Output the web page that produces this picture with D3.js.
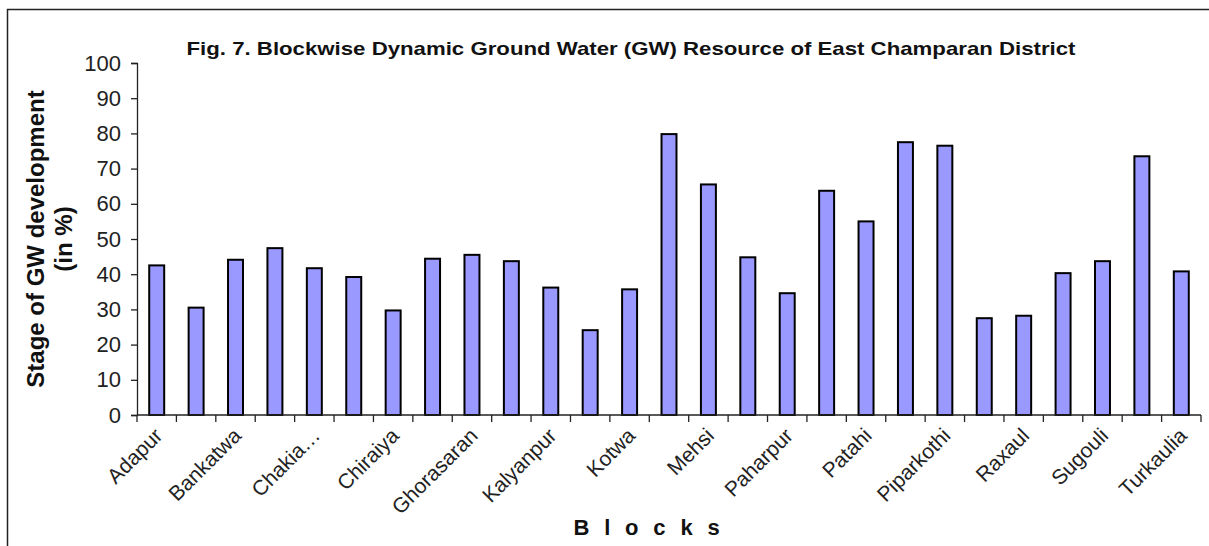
<!DOCTYPE html>
<html>
<head>
<meta charset="utf-8">
<script src="https://cdn.jsdelivr.net/npm/d3@7"></script>
<style>
  body { margin: 0; background: #fff; }
  svg { display: block; font-family: Arial, "Liberation Sans", sans-serif; }
</style>
</head>
<body>
<svg id="chart" width="1209" height="546"></svg>
<script>
// blocks of East Champaran (every other one gets a label, like the original)
const blocks = ['Adapur', 'Areraj', 'Bankatwa', 'Banjariya', 'Chakia…', 'Chhauradano', 'Chiraiya',
  'Dhaka', 'Ghorasaran', 'Harsidhi', 'Kalyanpur', 'Kesariya', 'Kotwa', 'Madhuban', 'Mehsi',
  'Motihari', 'Paharpur', 'Pakridayal', 'Patahi', 'Phenhara', 'Piparkothi', 'Ramgarhwa',
  'Raxaul', 'Sangrampur', 'Sugouli', 'Tetaria', 'Turkaulia'];
const stage = [42.5, 30.5, 44.1, 47.4, 41.7, 39.2, 29.7, 44.4, 45.5, 43.7, 36.2, 24.1, 35.7, 79.8,
  65.5, 44.8, 34.6, 63.7, 55.0, 77.5, 76.5, 27.5, 28.2, 40.3, 43.7, 73.5, 40.8];
const yTicks = [0, 10, 20, 30, 40, 50, 60, 70, 80, 90, 100];

const svg = d3.select('#chart');
const mLeft = 137, mRight = 1201, mTop = 63, mBottom = 415;

// frame around the figure (right/bottom edges fall outside the window)
svg.append('rect')
  .attr('x', 7.5).attr('y', 9.5)
  .attr('width', 1220).attr('height', 560)
  .attr('fill', 'none').attr('stroke', '#222').attr('stroke-width', 1.5);

svg.append('text')
  .attr('x', 631).attr('y', 55)
  .attr('text-anchor', 'middle')
  .attr('font-size', '18.5px').attr('font-weight', 'bold').attr('fill', '#111')
  .attr('textLength', 889).attr('lengthAdjust', 'spacingAndGlyphs')
  .text('Fig. 7. Blockwise  Dynamic  Ground Water (GW) Resource of East Champaran District');

const x = d3.scaleBand().domain(blocks).range([mLeft, mRight])
  .paddingInner(0.62).paddingOuter(0.31);
const y = d3.scaleLinear().domain([0, 100]).range([mBottom, mTop]);

svg.selectAll('.bar')
  .data(blocks)
  .enter().append('rect')
  .attr('class', 'bar')
  .attr('x', d => x(d))
  .attr('y', (d, i) => y(stage[i]))
  .attr('width', x.bandwidth())
  .attr('height', (d, i) => y(0) - y(stage[i]))
  .attr('fill', '#9999ff')
  .attr('stroke', '#000')
  .attr('stroke-width', 2);

// y axis
const yAxis = svg.append('g')
  .attr('transform', `translate(${mLeft},0)`)
  .call(d3.axisLeft(y).tickValues(yTicks).tickSize(6).tickPadding(10));
yAxis.select('.domain').attr('stroke', '#222').attr('stroke-width', 1.3);
yAxis.selectAll('.tick line').attr('stroke', '#222').attr('stroke-width', 1.3);
yAxis.selectAll('.tick text').attr('font-size', '22px').attr('fill', '#222')
  .attr('font-family', 'Arial, "Liberation Sans", sans-serif');

// x axis: tick marks at the category boundaries
const step = x.step();
const bounds = d3.range(blocks.length + 1).map(i => mLeft + i * step);
svg.append('line')
  .attr('x1', mLeft).attr('x2', mRight)
  .attr('y1', mBottom).attr('y2', mBottom)
  .attr('stroke', '#222').attr('stroke-width', 1.3);
svg.selectAll('.xtick')
  .data(bounds)
  .enter().append('line')
  .attr('x1', d => d).attr('x2', d => d)
  .attr('y1', mBottom).attr('y2', mBottom + 7)
  .attr('stroke', '#222').attr('stroke-width', 1.3);

svg.selectAll('.xlabel')
  .data(blocks.filter((d, i) => i % 2 === 0))
  .enter().append('text')
  .attr('class', 'xlabel')
  .attr('transform', d => `translate(${x(d) + x.bandwidth() / 2 + 7},${mBottom + 22}) rotate(-45)`)
  .attr('text-anchor', 'end')
  .attr('font-size', '21px').attr('fill', '#222')
  .text(d => d);

svg.append('text')
  .attr('x', 654).attr('y', 535)
  .attr('text-anchor', 'middle')
  .attr('font-size', '22px').attr('font-weight', 'bold').attr('fill', '#111')
  .attr('letter-spacing', '14.8px')
  .text('Blocks');

const yt = svg.append('text')
  .attr('transform', 'translate(0,239) rotate(-90)')
  .attr('text-anchor', 'middle')
  .attr('font-size', '24px').attr('font-weight', 'bold').attr('fill', '#111');
yt.append('tspan').attr('x', 0).attr('y', 44).text('Stage of GW development');
yt.append('tspan').attr('x', 0).attr('y', 72).text('(in %)');
</script>
</body>
</html>
